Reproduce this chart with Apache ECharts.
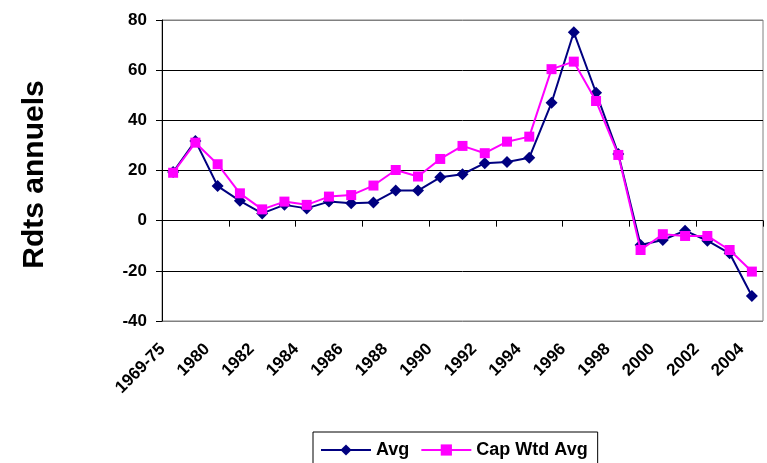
<!DOCTYPE html>
<html>
<head>
<meta charset="utf-8">
<script src="https://cdn.jsdelivr.net/npm/echarts@6/dist/echarts.min.js"></script>
<style>
  html, body { margin: 0; padding: 0; background: #fff; }
  #chart { width: 767px; height: 463px; }
</style>
</head>
<body>
<div id="chart"></div>
<script>
// Periods on the x axis
const periods = ['1969-75', '1979', '1980', '1981', '1982', '1983', '1984', '1985', '1986',
  '1987', '1988', '1989', '1990', '1991', '1992', '1993', '1994', '1995', '1996', '1997',
  '1998', '1999', '2000', '2001', '2002', '2003', '2004'];

// Annual returns (%)
const avg = [19.4, 31.8, 13.8, 7.9, 2.9, 6.3, 4.9, 7.6, 6.9, 7.2, 12, 12, 17.3, 18.5,
  22.9, 23.4, 25.1, 47, 75.1, 51, 26.6, -9.7, -7.7, -4, -8, -13, -30];
const capWtdAvg = [19.1, 31.1, 22.5, 10.9, 4.5, 7.6, 6.3, 9.6, 10.2, 14, 20.2, 17.6, 24.6, 29.8,
  26.9, 31.5, 33.5, 60.4, 63.4, 47.7, 26.2, -11.7, -5.4, -6.1, -6.1, -11.7, -20.3];

// Value axis ticks
const yMin = -40, yMax = 80, yStep = 20;

const font = '"Liberation Sans", Arial, sans-serif';
const chart = echarts.init(document.getElementById('chart'), null, { renderer: 'canvas' });

chart.setOption({
  animation: false,
  backgroundColor: '#fff',
  grid: {
    left: 162, right: 4, top: 20, bottom: 142,
    show: true, borderColor: '#808080', borderWidth: 1, backgroundColor: 'transparent'
  },
  legend: {
    left: 313, top: 432,
    padding: [9, 10, 12, 7],
    borderColor: '#000', borderWidth: 1,
    itemWidth: 50, itemHeight: 14, itemGap: 11,
    textStyle: { fontFamily: font, fontWeight: 'bold', fontSize: 18, color: '#000' },
    data: ['Avg', 'Cap Wtd Avg']
  },
  xAxis: [
    {
      // axis line through zero with tick marks between categories
      type: 'category', data: periods, position: 'bottom', boundaryGap: true,
      axisLine: { onZero: true, lineStyle: { color: '#000', width: 1 } },
      axisTick: { show: true, length: 6, lineStyle: { color: '#000' } },
      axisLabel: { show: false },
      splitLine: { show: false }
    },
    {
      // period labels along the bottom of the plot
      type: 'category', data: periods, position: 'bottom', boundaryGap: true,
      axisLine: { show: false, onZero: false },
      axisTick: { show: false },
      axisLabel: {
        interval: 1, rotate: 45, margin: 15,
        padding: [0, 15, 0, 0],
        fontFamily: font, fontWeight: 'bold', fontSize: 17, color: '#000'
      },
      splitLine: { show: false }
    }
  ],
  yAxis: {
    type: 'value', min: yMin, max: yMax, interval: yStep,
    name: 'Rdts annuels', nameLocation: 'middle', nameRotate: 90, nameGap: 112,
    nameTextStyle: { fontFamily: font, fontWeight: 'bold', fontSize: 30, color: '#000', padding: [0, 8, 0, 0] },
    axisLine: { show: true, lineStyle: { color: '#000', width: 1 } },
    axisTick: { show: true, length: 6, lineStyle: { color: '#000' } },
    axisLabel: { margin: 15, fontFamily: font, fontWeight: 'bold', fontSize: 17, color: '#000' },
    splitLine: {
      show: true,
      lineStyle: { color: ['#808080', '#000', '#000', '#000', '#000', '#000', '#808080'], width: 1 }
    }
  },
  series: [
    {
      name: 'Avg', type: 'line', data: avg, xAxisIndex: 0,
      symbol: 'diamond', symbolSize: 12, showAllSymbol: true,
      itemStyle: { color: '#000080' },
      lineStyle: { color: '#000080', width: 2 },
      z: 2
    },
    {
      name: 'Cap Wtd Avg', type: 'line', data: capWtdAvg, xAxisIndex: 0,
      symbol: 'rect', symbolSize: 10, showAllSymbol: true,
      itemStyle: { color: '#FF00FF' },
      lineStyle: { color: '#FF00FF', width: 2 },
      z: 3
    }
  ]
});
</script>
</body>
</html>
